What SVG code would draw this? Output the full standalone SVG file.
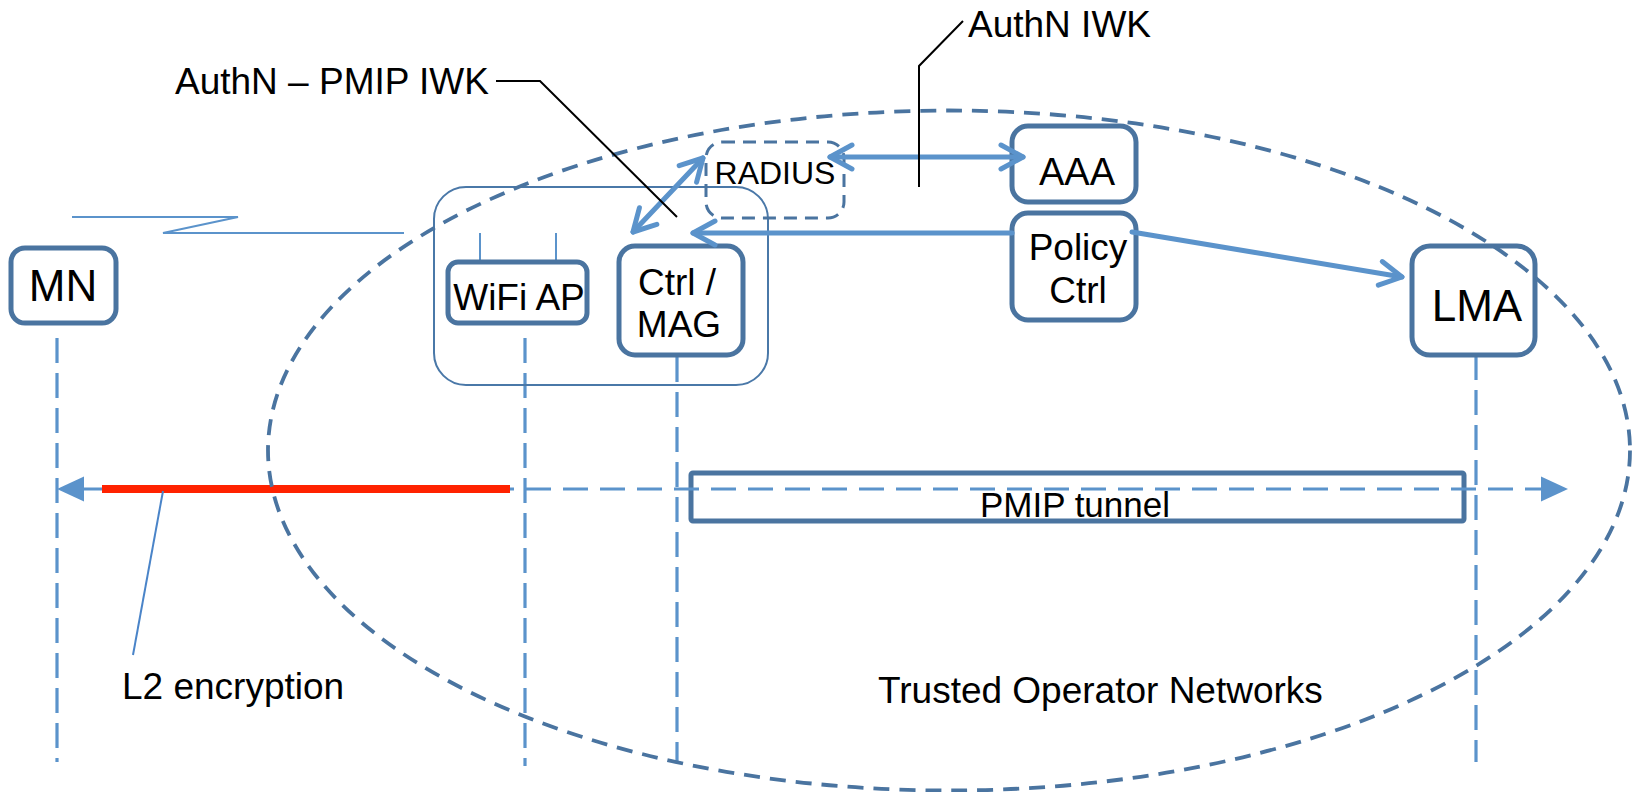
<svg xmlns="http://www.w3.org/2000/svg" width="1636" height="792" viewBox="0 0 1636 792">
<defs>
<style>
.node{fill:#fff;stroke:#4A74A0;stroke-width:5}
.lbl{font-family:"Liberation Sans",Arial,sans-serif;fill:#000;text-anchor:middle}
.life{stroke:#5B93CB;stroke-width:3.2;stroke-dasharray:25 10;fill:none}
.arr{stroke:#5B93CB;stroke-width:5;fill:none;stroke-linecap:round}
.thin{stroke:#5B93CB;stroke-width:2;fill:none}
.lead{stroke:#000;stroke-width:2;fill:none}
.note{font-family:"Liberation Sans",Arial,sans-serif;fill:#000;font-size:37px}
</style>
<marker id="chev" markerUnits="userSpaceOnUse" viewBox="-30 -16 34 32" refX="0" refY="0" markerWidth="34" markerHeight="32" orient="auto-start-reverse">
<path d="M-22,-12 L0,0 L-22,12" fill="none" stroke="#5B93CB" stroke-width="5" stroke-linecap="round" stroke-linejoin="round"/>
</marker>
<marker id="tri" markerUnits="userSpaceOnUse" viewBox="-28 -14 30 28" refX="0" refY="0" markerWidth="30" markerHeight="28" orient="auto-start-reverse">
<path d="M-27,-12.5 L0,0 L-27,12.5 Z" fill="#5B93CB"/>
</marker>
</defs>
<rect width="1636" height="792" fill="#fff"/>

<g id="lifelines">
<line class="life" x1="57" y1="338" x2="57" y2="762"/>
<line class="life" x1="525" y1="338" x2="525" y2="766"/>
<line class="life" x1="677" y1="357" x2="677" y2="762"/>
<line class="life" x1="1476" y1="355" x2="1476" y2="762"/>
</g>

<g id="container">
<rect x="434" y="187" width="334" height="198" rx="32" fill="none" stroke="#4A78A8" stroke-width="2"/>
<line class="thin" x1="480" y1="233" x2="480" y2="262"/>
<line class="thin" x1="556" y1="233" x2="556" y2="262"/>
</g>

<g id="wireless">
<polyline class="thin" points="72,217 238,217 163,233 404,233"/>
</g>

<g id="mn"><rect class="node" x="11" y="248" width="105" height="75" rx="14"/><text class="lbl" x="63" y="301" font-size="44">MN</text></g>
<g id="wifiap"><rect class="node" x="448" y="262" width="139" height="61" rx="10"/><text class="lbl" x="519" y="310" font-size="37">WiFi AP</text></g>
<g id="ctrlmag"><rect class="node" x="619" y="246" width="124" height="109" rx="16"/><text class="lbl" x="677" y="295" font-size="37">Ctrl /</text><text class="lbl" x="679" y="337" font-size="37">MAG</text></g>
<g id="radius"><rect x="706" y="142" width="138" height="76" rx="16" fill="none" stroke="#4A74A0" stroke-width="3" stroke-dasharray="13 8"/><text class="lbl" x="775" y="184" font-size="32">RADIUS</text></g>
<g id="aaa"><rect class="node" x="1012" y="126" width="124" height="76" rx="16"/><text class="lbl" x="1077" y="185" font-size="38">AAA</text></g>
<g id="policy"><rect class="node" x="1012" y="213" width="124" height="107" rx="16"/><text class="lbl" x="1078" y="260" font-size="37">Policy</text><text class="lbl" x="1078" y="303" font-size="37">Ctrl</text></g>
<g id="lma"><rect class="node" x="1412" y="246" width="123" height="109" rx="18"/><text class="lbl" x="1477" y="321" font-size="44">LMA</text></g>

<g id="pmip"><rect x="691" y="473" width="773" height="48" rx="2" fill="none" stroke="#4A74A0" stroke-width="5"/><text class="lbl" x="1075" y="517" font-size="35">PMIP tunnel</text></g>

<g id="connectors">
<line class="arr" x1="703" y1="158" x2="633" y2="232" marker-start="url(#chev)" marker-end="url(#chev)"/>
<line class="arr" x1="830" y1="157" x2="1023" y2="157" marker-start="url(#chev)" marker-end="url(#chev)"/>
<line class="arr" x1="1012" y1="233" x2="693" y2="233" marker-end="url(#chev)"/>
<line class="arr" x1="1132" y1="232" x2="1402" y2="277" marker-end="url(#chev)"/>
<line x1="82" y1="489" x2="1543" y2="489" stroke="#5B93CB" stroke-width="3.2" stroke-dasharray="25 12"/>
<line x1="57" y1="489" x2="84" y2="489" stroke="none" marker-start="url(#tri)"/>
<line x1="1540" y1="489" x2="1568" y2="489" stroke="none" marker-end="url(#tri)"/>
<line x1="102" y1="489" x2="510" y2="489" stroke="#FF2200" stroke-width="8"/>
<line x1="163" y1="491" x2="133" y2="655" stroke="#4A84C8" stroke-width="2"/>
</g>

<g id="ellipse">
<ellipse cx="949" cy="450.5" rx="681" ry="340" fill="none" stroke="#4A74A0" stroke-width="3.8" stroke-dasharray="16 10"/>
</g>

<g id="labels">
<polyline class="lead" points="496,81 540,81 677,217"/>
<text class="note" x="175" y="94">AuthN – PMIP IWK</text>
<polyline class="lead" points="963,21 919,66 919,187"/>
<text class="note" x="968" y="37">AuthN IWK</text>
<text class="note" x="122" y="699">L2 encryption</text>
<text class="note" x="878" y="703">Trusted Operator Networks</text>
</g>
</svg>
